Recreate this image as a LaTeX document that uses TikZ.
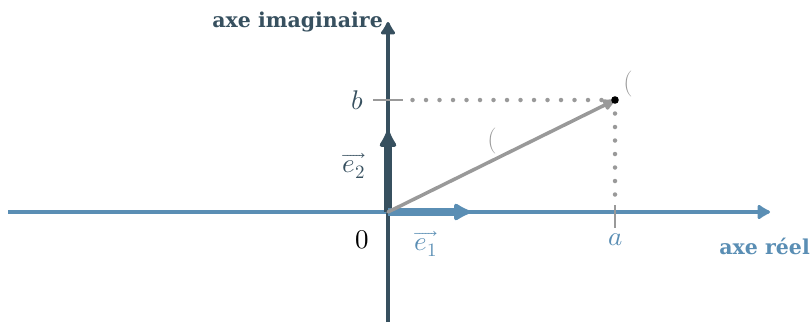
\documentclass[tikz,border=0pt]{standalone}
\usepackage{unicode-math}
\newfontfamily\lblfont{DejaVu Serif}
\usetikzlibrary{arrows.meta}
\definecolor{axblue}{RGB}{90,142,180}
\definecolor{axdark}{RGB}{55,80,95}
\definecolor{vgray}{RGB}{153,153,153}
\begin{document}
\begin{tikzpicture}[x=1pt,y=-1pt,
  axisline/.style={line width=4pt,-{Latex[length=15pt,width=18pt,round]}},
  basevec/.style={line width=8.5pt,-{Latex[length=20pt,width=21pt,round]}},
  dotline/.style={vgray,line width=4.5pt,line cap=round,dash pattern=on 0pt off 13.5pt},
  tickline/.style={vgray,line width=1.3pt},
  axlabel/.style={font=\lblfont\fontsize{20.5}{24}\selectfont\bfseries,inner sep=0pt},
  mlabel/.style={font=\fontsize{27}{31}\selectfont,inner sep=0pt},
  paren/.style={vgray,font=\fontsize{26}{30}\selectfont,inner sep=0pt}]
\useasboundingbox (0,0) rectangle (812,322);
% named points
\coordinate (O) at (388,212);
\coordinate (xs) at (8,212);
\coordinate (xe) at (770,212);
\coordinate (ys) at (388,322);
\coordinate (ye) at (388,22);
\coordinate (e1) at (470,212);
\coordinate (e2) at (388,131);
\coordinate (M) at (615,100);
\coordinate (bpt) at (403,100);
\coordinate (bl) at (373,100);
\coordinate (apt) at (615,205);
\coordinate (at) at (615,228);
% axes
\draw[axisline,axblue] (xs) -- (xe);
\draw[axisline,axdark] (ys) -- (ye);
% dotted projections
\draw[dotline] (M) -- (bpt);
\draw[dotline] (M) -- (apt);
\draw[tickline] (bl) -- (bpt);
\draw[tickline] (apt) -- (at);
% base vectors
\draw[basevec,axdark] (O) -- (e2);
\draw[basevec,axblue] (O) -- (e1);
% vector OM
\draw[vgray,line width=3.5pt,line cap=round,-{Latex[length=16pt,width=14pt,round]}] (O) -- (M);
\fill[black] (M) circle (3.8pt);
% labels
\node[axlabel,axdark,anchor=east] (lim) at (383,22) {axe imaginaire};
\node[axlabel,axblue,anchor=east] (lre) at (810,246) {axe réel};
\node[mlabel,axdark] (lb) at (357,100) {$b$};
\node[mlabel,axblue] (la) at (616,240) {$a$};
\node[mlabel] (l0) at (362,240) {$0$};
\node[mlabel,axdark] (le2) at (354,166) {$\overrightarrow{e_2}$};
\node[mlabel,axblue] (le1) at (426,244) {$\overrightarrow{e_1}$};
\node[paren] (pM) at (628,84) {(};
\node[paren] (pv) at (492,141) {(};
\end{tikzpicture}
\end{document}
